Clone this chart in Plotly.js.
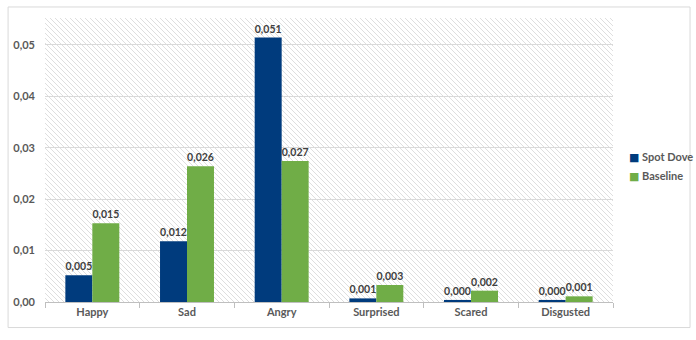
<!DOCTYPE html>
<html>
<head>
<meta charset="utf-8">
<script src="https://cdn.plot.ly/plotly-3.0.1.min.js"></script>
<style>
html,body{margin:0;padding:0;background:#fff;}
#wrap{position:relative;width:696px;height:340px;}
#hatch{position:absolute;left:45px;top:18px;width:568px;height:284px;
background-image:url("data:image/svg+xml;utf8,<svg xmlns='http://www.w3.org/2000/svg' width='5' height='5'><path d='M-1,-1 L6,6 M-1,4 L1,6 M4,-1 L6,1' stroke='%23dedede' stroke-width='1'/></svg>");
background-size:5px 5px;}
#chart{position:absolute;left:0;top:0;width:696px;height:340px;}
</style>
</head>
<body>
<div id="wrap"><div id="hatch"></div><div id="chart"></div></div>
<script>
const categories = ["Happy","Sad","Angry","Surprised","Scared","Disgusted"];
const spotDove = [0.0052,0.0118,0.0514,0.0007,0.0004,0.0004];
const baseline = [0.0153,0.0264,0.0274,0.0033,0.0022,0.0011];
const seriesNames = ["Spot Dove","Baseline"];
const seriesColors = ["#003b7d","#70ad47"];

const fam = "Lato, 'Open Sans', sans-serif";
const font = {family:fam, size:11, color:"#595959", weight:700};
const labelFont = {family:fam, size:10.5, color:"#404040", weight:700};

const traces = [
 {type:"bar", name:seriesNames[0], x:categories, y:spotDove, marker:{color:seriesColors[0]},
  texttemplate:"%{y:.3f}", textposition:"outside", textfont:labelFont, cliponaxis:false, hoverinfo:"skip"},
 {type:"bar", name:seriesNames[1], x:categories, y:baseline, marker:{color:seriesColors[1]},
  texttemplate:"%{y:.3f}", textposition:"outside", textfont:labelFont, cliponaxis:false, hoverinfo:"skip"}
];

// legend drawn as text annotations (small square swatch + name)
const legendY = [0.51, 0.443];
const annotations = seriesNames.map((n, i) => ({
  xref:"paper", yref:"paper", x:1.024, y:legendY[i], xanchor:"left", yanchor:"middle", showarrow:false,
  text:'<span style="color:' + seriesColors[i] + ';font-size:11px;font-family:DejaVu Sans">■</span> ' + n,
  font:{family:fam, size:11, color:"#595959", weight:700}
}));

const layout = {
 width:696, height:340,
 margin:{l:45, r:83, t:18, b:38, pad:0, autoexpand:false},
 paper_bgcolor:"rgba(0,0,0,0)", plot_bgcolor:"rgba(0,0,0,0)",
 separators:",.",
 font:font,
 barmode:"group", bargap:0.43, bargroupgap:0,
 showlegend:false,
 annotations:annotations,
 xaxis:{type:"category", showgrid:false, showline:true, linecolor:"#bfbfbf", linewidth:1,
   ticks:"outside", tickson:"boundaries", ticklen:5, tickcolor:"#bfbfbf", tickfont:font, fixedrange:true},
 yaxis:{range:[0,0.0552], dtick:0.01, tickformat:".2f", showgrid:true, gridcolor:"#d9d9d9", gridwidth:1,
   zeroline:false, showline:false, ticks:"", tickfont:font, ticklabelstandoff:9, fixedrange:true},
 shapes:[{type:"rect", xref:"paper", yref:"paper", x0:-0.065, x1:1.1356, y0:-0.09, y1:1.0388,
   line:{color:"#d9d9d9", width:1}, fillcolor:"rgba(0,0,0,0)", layer:"below"}]
};

Plotly.newPlot("chart", traces, layout, {displayModeBar:false, staticPlot:true});
</script>
</body>
</html>
